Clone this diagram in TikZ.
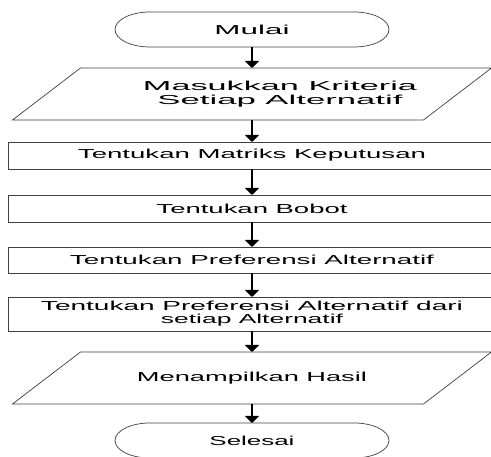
\documentclass[tikz,border=0pt]{standalone}
\usepackage{fontspec}
\setmainfont{Liberation Sans}
\usetikzlibrary{arrows.meta}
\newcommand{\wtxt}[2]{\resizebox{#1pt}{\height}{#2}}

\begin{document}
\begin{tikzpicture}[x=1pt,y=1pt,
    term/.style={minimum width=274pt, minimum height=35pt, inner sep=0pt, outer sep=0pt},
    io/.style={minimum width=411pt, minimum height=52pt, inner sep=0pt, outer sep=0pt},
    proc/.style={draw=black!75, line width=0.7pt, minimum width=488pt, minimum height=#1,
      inner sep=0pt, outer sep=0pt, align=center},
    proc/.default=27pt,
    txt/.style={align=center, font=\fontsize{13}{14.5}\selectfont},
    outline/.style={draw=black!75, line width=0.7pt},
    arrow/.style={line width=1.1pt, -{Triangle[width=14pt,length=7pt]}}]
    \useasboundingbox (0,0) rectangle (491,457);
    \clip (0,0) rectangle (491,457);

    \node (mulai) [term, txt] at (252,427.5) {\wtxt{75}{Mulai}};
    \node (masuk) [io] at (252,363) {};
    \node (masukteks) [txt] at (280,363)
      {\wtxt{274}{Masukkan Kriteria}\\\wtxt{245}{Setiap Alternatif}};
    \node (matriks) [proc, txt] at (252,301.5) {\wtxt{348}{Tentukan Matriks Keputusan}};
    \node (bobot) [proc, txt] at (252,248.5) {\wtxt{191}{Tentukan Bobot}};
    \node (pref) [proc=26pt, txt] at (252,197) {\wtxt{364}{Tentukan Preferensi Alternatif}};
    \node (prefalt) [proc=34pt, txt, font=\fontsize{13}{13}\selectfont] at (252,143)
      {\wtxt{422}{Tentukan Preferensi Alternatif dari}\\\wtxt{182}{setiap Alternatif}};
    \node (hasil) [io, txt] at (252,79) {\wtxt{230}{Menampilkan Hasil}};
    \node (selesai) [term, txt] at (252,16.5) {\wtxt{85}{Selesai}};

    % terminal ends
    \foreach \t in {mulai,selesai}
      \draw[outline] ([xshift=35pt]\t.north west) -- ([xshift=-35pt]\t.north east)
        arc[start angle=90, end angle=-90, x radius=35pt, y radius=17.5pt]
        -- ([xshift=35pt]\t.south west)
        arc[start angle=270, end angle=90, x radius=35pt, y radius=17.5pt] -- cycle;

    % input / output
    \foreach \p in {masuk,hasil}
      \draw[outline] ([xshift=-34pt]\p.south west) -- ([xshift=-34pt]\p.south east)
        -- ([xshift=34pt]\p.north east) -- ([xshift=34pt]\p.north west) -- cycle;

    \foreach \a/\b in {mulai/masuk,masuk/matriks,matriks/bobot,bobot/pref,
                      pref/prefalt,prefalt/hasil,hasil/selesai}
      \draw[arrow] (\a) -- (\b);
  \end{tikzpicture}
\end{document}
